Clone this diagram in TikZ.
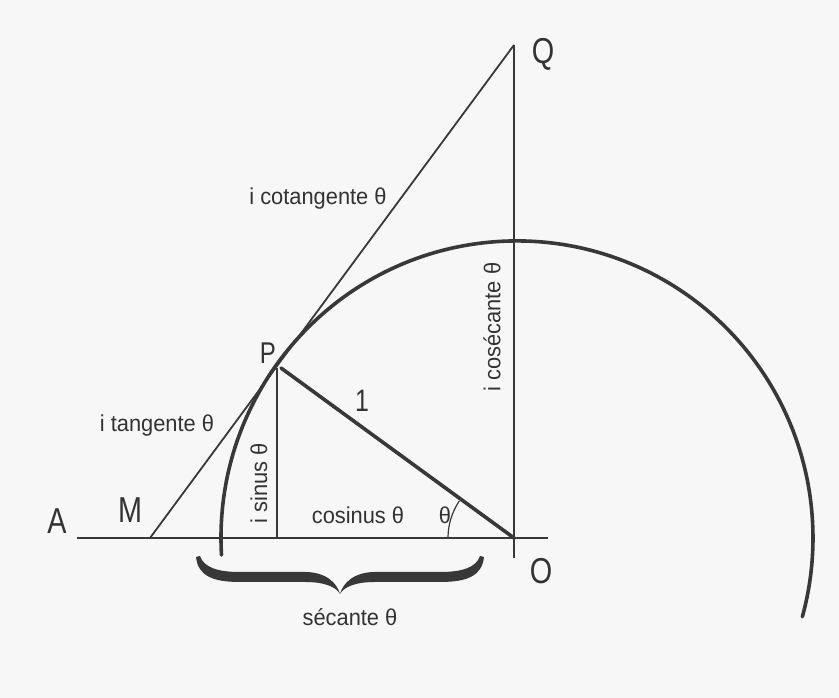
\documentclass[tikz,border=0pt]{standalone}
\usepackage{fontspec}
\setmainfont{Liberation Sans}[FakeStretch=0.95]
\newfontfamily\ptfont{Liberation Sans}[FakeStretch=0.8]
\begin{document}
\begin{tikzpicture}[x=1pt,y=1pt,
  thinline/.style={line width=1.8pt,draw=ink},
  thickline/.style={line width=3.6pt,draw=ink,line cap=round},
  lbl/.style={inner sep=0pt,text=inktext,font=\fontsize{23}{26}\selectfont},
  ptlbl/.style={inner sep=0pt,text=inktext,font=\ptfont\fontsize{36}{40}\selectfont}]
\definecolor{ink}{HTML}{383838}
\definecolor{inktext}{HTML}{333333}
\definecolor{paper}{HTML}{F7F7F7}
\useasboundingbox (0,0) rectangle (839,698);
\fill[paper] (0,0) rectangle (839,698);
% key points
\coordinate (O) at (514,160);
\coordinate (Q) at (514,653);
\coordinate (M) at (150,160);
\coordinate (P) at (281,330);
\coordinate (Ptop) at (277,330);
\coordinate (F) at (277,160);
\coordinate (Aend) at (77,160);
\coordinate (Rend) at (548,160);
\coordinate (Obot) at (514,140);
\coordinate (Arcstart) at (221.5,143);
\coordinate (Angstart) at (448,160);
% axis lines
\draw[thinline] (Aend) -- (Rend);
\draw[thinline] (Q) -- (Obot);
% tangent line M--Q
\draw[thinline] (M) -- (Q);
% sine
\draw[thinline] (Ptop) -- (F);
% big arc
\draw[thickline] (Arcstart) arc[start angle=183.3,end angle=-15.4,x radius=296,y radius=297];
% radius
\draw[thickline] (P) -- (O);
% angle arc
\draw[line width=1.2pt,draw=ink] (Angstart) arc[start angle=180,end angle=146,radius=66];
% brace
\def\halfbrace{(196,141) .. controls (198,122) and (213,116) .. (240,116) -- (305,116) .. controls (325,116) and (336,111) .. (340,104)
  .. controls (337,115) and (326,126) .. (305,126) -- (240,126) .. controls (219,126) and (204,130) .. (200,142) -- cycle}
\fill[ink] \halfbrace;
\begin{scope}[xshift=680pt,xscale=-1]
\fill[ink] \halfbrace;
\end{scope}
% labels
\node[ptlbl] (lA) at (57,177) {A};
\node[ptlbl] (lM) at (130,188) {M};
\node[ptlbl,font=\ptfont\fontsize{30}{34}\selectfont] (lP) at (268,345) {P};
\node[ptlbl] (lQ) at (543,644) {Q};
\node[ptlbl] (lO) at (541,127) {O};
\node[lbl,font=\ptfont\fontsize{31}{34}\selectfont] (l1) at (362,297) {1};
\node[lbl] (lth) at (445,183) {θ};
\node[lbl] (lcos) at (358,183) {cosinus θ};
\node[lbl,rotate=90] (lsin) at (259,215) {i sinus θ};
\node[lbl] (ltan) at (157,272) {i tangente θ};
\node[lbl] (lcot) at (318,499) {i cotangente θ};
\node[lbl,rotate=90] (lcsc) at (492,371) {i cosécante θ};
\node[lbl] (lsec) at (350,81) {sécante θ};
\end{tikzpicture}
\end{document}
